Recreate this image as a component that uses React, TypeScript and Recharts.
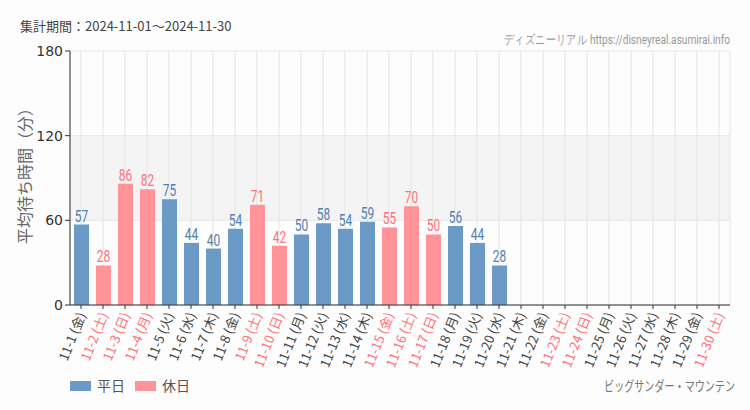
import { Bar, BarChart, CartesianGrid, Cell, LabelList, XAxis, YAxis } from "recharts";

const dates = [
  "11-1", "11-2", "11-3", "11-4", "11-5", "11-6", "11-7", "11-8", "11-9", "11-10",
  "11-11", "11-12", "11-13", "11-14", "11-15", "11-16", "11-17", "11-18", "11-19", "11-20",
  "11-21", "11-22", "11-23", "11-24", "11-25", "11-26", "11-27", "11-28", "11-29", "11-30"
];
const weekdays = [
  "金", "土", "日", "月", "火", "水", "木", "金", "土", "日",
  "月", "火", "水", "木", "金", "土", "日", "月", "火", "水",
  "木", "金", "土", "日", "月", "火", "水", "木", "金", "土"
];
const waits: (number | null)[] = [
  57, 28, 86, 82, 75, 44, 40, 54, 71, 42,
  50, 58, 54, 59, 55, 70, 50, 56, 44, 28,
  null, null, null, null, null, null, null, null, null, null
];
const holidays = ["11-2", "11-3", "11-4", "11-9", "11-10", "11-15", "11-16", "11-17", "11-23", "11-24", "11-30"];
const yTicks = [0, 60, 120, 180];

const BLUE = "#6b9ac6";
const PINK = "#ff9398";
const BLUE_TEXT = "#4f7fb3";
const PINK_TEXT = "#ff717b";
const CJK = "'Noto Sans CJK JP', 'Noto Sans', sans-serif";

const rows = dates.map((d, i) => ({
  label: `${d} (${weekdays[i]})`,
  wait: waits[i],
  off: holidays.includes(d)
}));

function DateTick({ x, y, payload }: any) {
  const off = holidays.includes(String(payload.value).split(" ")[0]);
  return (
    <g transform={`translate(${x + 1},${y + 2})`}>
      <text
        x={0}
        y={0}
        dy="0.35em"
        textAnchor="end"
        transform="rotate(-68)"
        fontSize={13}
        fontFamily={CJK}
        fill={off ? PINK_TEXT : "#444"}
      >
        {payload.value}
      </text>
    </g>
  );
}

// condensed look: no narrow font installed, so squeeze Roboto
function ValueLabel(props: any) {
  const { x, y, width, value, index } = props;
  if (value == null) return null;
  const off = rows[index]?.off;
  return (
    <text
      transform={`translate(${x + width / 2},${y - 3}) scale(0.7,1)`}
      textAnchor="middle"
      fontSize={17}
      fontFamily="Roboto, sans-serif"
      fill={off ? PINK_TEXT : BLUE_TEXT}
    >
      {value}
    </text>
  );
}

export default function App() {
  return (
    <div style={{ position: "absolute", left: 0, top: 0, width: 750, height: 410, background: "#fcfdfc" }}>
      <BarChart
        width={750}
        height={410}
        data={rows}
        margin={{ top: 51, right: 20, bottom: 35, left: 10 }}
        barSize={15}
      >
        <CartesianGrid
          stroke="#e5e5e5"
          horizontalFill={["transparent", "#f3f4f3", "transparent"]}
          fillOpacity={1}
        />
        <XAxis
          dataKey="label"
          interval={0}
          height={70}
          tickSize={4}
          tickMargin={2}
          stroke="#333"
          tick={<DateTick />}
        />
        <YAxis
          domain={[0, 180]}
          ticks={yTicks}
          width={60}
          tickSize={5}
          stroke="#333"
          tick={{ fill: "#333", fontSize: 14, fontFamily: "'DejaVu Sans', sans-serif" }}
        />
        <Bar dataKey="wait" isAnimationActive={false}>
          {rows.map((r) => (
            <Cell key={r.label} fill={r.off ? PINK : BLUE} />
          ))}
          <LabelList dataKey="wait" content={<ValueLabel />} />
        </Bar>
      </BarChart>
      <svg
        width={750}
        height={410}
        style={{ position: "absolute", left: 0, top: 0, pointerEvents: "none" }}
      >
        <text x={20} y={31} fontSize={13} fontFamily={CJK} fill="#444">
          集計期間：2024-11-01～2024-11-30
        </text>
        <text
          transform="translate(730,44) scale(0.78,1)"
          textAnchor="end"
          fontSize={13}
          fontFamily="Roboto, sans-serif"
          fill="#999"
        >
          ディズニーリアル https://disneyreal.asumirai.info
        </text>
        <text
          x={31}
          y={172}
          textAnchor="middle"
          transform="rotate(-90 31 172)"
          fontSize={16}
          fontFamily={CJK}
          fill="#666"
        >
          平均待ち時間（分）
        </text>
        <rect x={70} y={381} width={21} height={10} fill={BLUE} />
        <text x={97} y={391} fontSize={14} fontFamily={CJK} fill="#555">平日</text>
        <rect x={135} y={381} width={21} height={10} fill={PINK} />
        <text x={162} y={391} fontSize={14} fontFamily={CJK} fill="#555">休日</text>
        <text
          transform="translate(735,391) scale(0.72,1)"
          textAnchor="end"
          fontSize={14}
          fontFamily={CJK}
          fill="#777"
        >
          ビッグサンダー・マウンテン
        </text>
      </svg>
    </div>
  );
}
